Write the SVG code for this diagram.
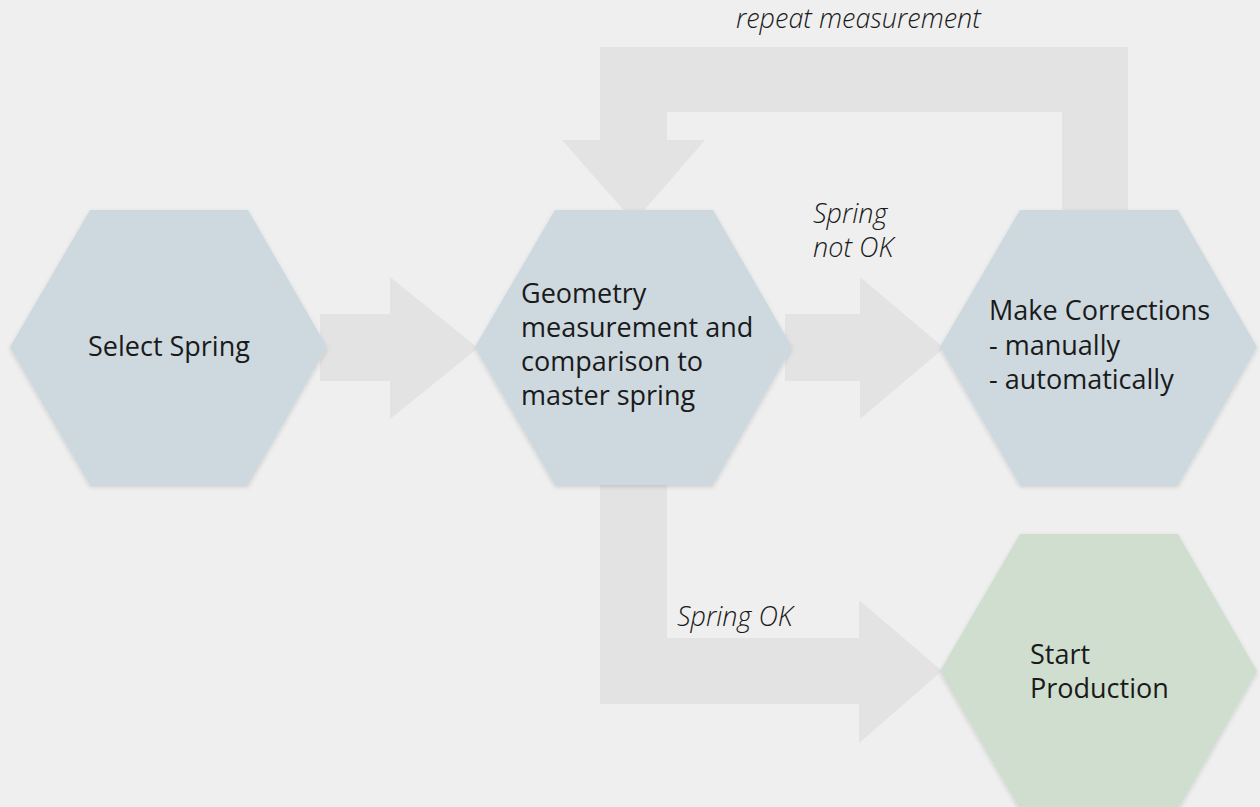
<svg xmlns="http://www.w3.org/2000/svg" width="1260" height="807" viewBox="0 0 1260 807">
  <style>
    .arrow { fill: #e3e3e3; }
    .hex { filter: url(#soft); }
    .blue { fill: #cdd8df; }
    .green { fill: #cfdecf; }
    .label { font-family: "Open Sans", "Noto Sans", sans-serif; font-size: 27px; fill: #1a1a1a; }
    .note { font-family: "Open Sans", "Noto Sans", sans-serif; font-size: 27px; font-style: italic; font-weight: 300; fill: #1a1a1a; }
  </style>
  <defs>
    <filter id="soft" x="-10%" y="-10%" width="120%" height="125%">
      <feDropShadow dx="0" dy="2" stdDeviation="2" flood-color="#000" flood-opacity="0.14"/>
    </filter>
  </defs>

  <rect width="1260" height="807" fill="#efefef"/>

  <!-- connectors (block arrows), drawn beneath the nodes -->
  <g id="connectors">
    <polygon class="arrow" points="320,314 390,314 390,277 478,348 390,419 390,381 320,381"/>
    <polygon class="arrow" points="785,314 860,314 860,277 944,348 860,419 860,381 785,381"/>
    <polygon class="arrow" points="1062,222 1062,112 667,112 667,140 705,140 634,222 562,140 600,140 600,47 1128,47 1128,222"/>
    <polygon class="arrow" points="600,480 667,480 667,638 859,638 859,600 942,671 859,743 859,704 600,704"/>
    <text class="note" x="736" y="28">repeat measurement</text>
    <text class="note" x="813" y="223">Spring</text>
    <text class="note" x="813" y="257">not OK</text>
    <text class="note" x="677" y="626">Spring OK</text>
  </g>

  <g id="select-spring">
    <polygon class="hex blue" points="10,347 90,210 248,210 327,347 248,485 90,485"/>
    <text class="label" x="88" y="356">Select Spring</text>
  </g>

  <g id="geometry-measurement">
    <polygon class="hex blue" points="475,347 555,210 713,210 792,347 713,485 555,485"/>
    <text class="label" x="521" y="303">Geometry</text>
    <text class="label" x="521" y="337">measurement and</text>
    <text class="label" x="521" y="371">comparison to</text>
    <text class="label" x="521" y="405">master spring</text>
  </g>

  <g id="make-corrections">
    <polygon class="hex blue" points="940,347 1020,210 1178,210 1257,347 1178,485 1020,485"/>
    <text class="label" x="989" y="320">Make Corrections</text>
    <text class="label" x="989" y="355">- manually</text>
    <text class="label" x="989" y="389">- automatically</text>
  </g>

  <g id="start-production">
    <polygon class="hex green" points="940,671 1020,534 1178,534 1257,671 1178,809 1020,809"/>
    <text class="label" x="1030" y="664">Start</text>
    <text class="label" x="1030" y="698">Production</text>
  </g>
</svg>
